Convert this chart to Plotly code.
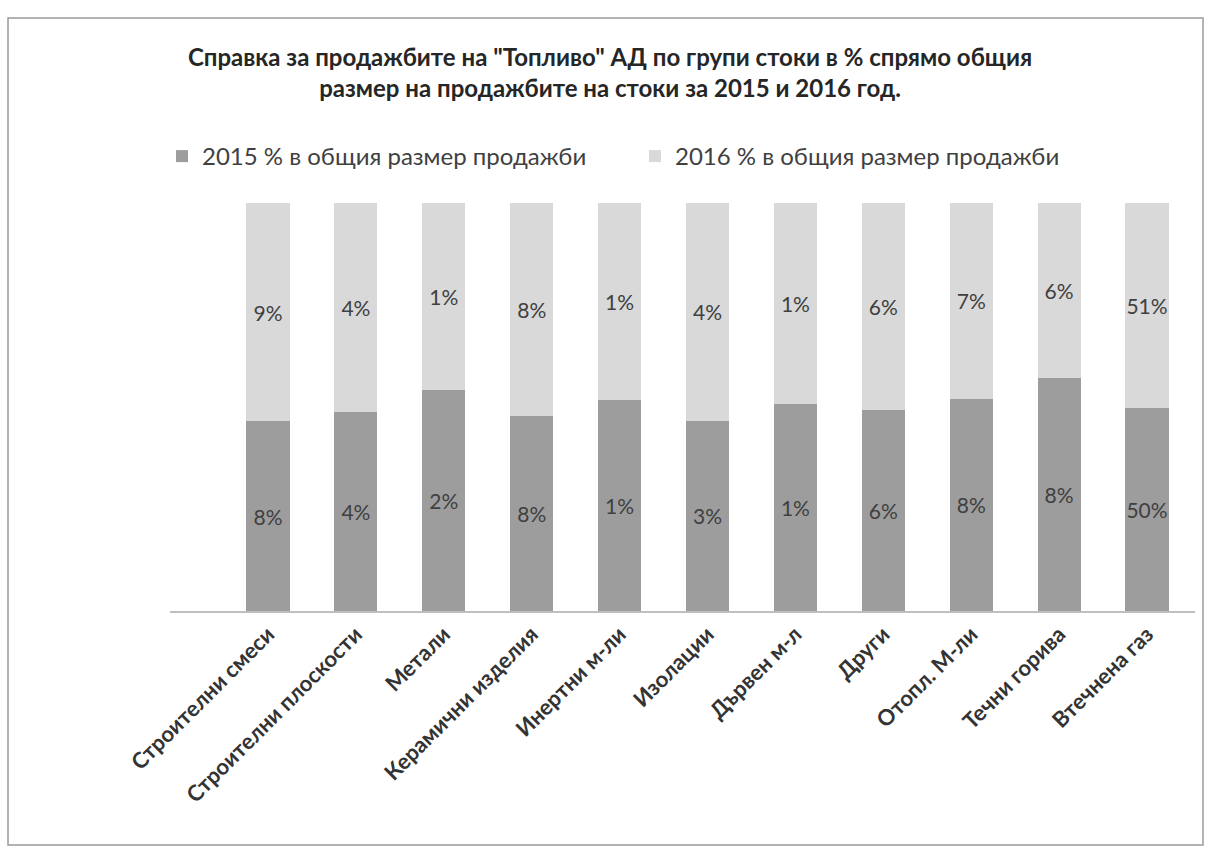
import plotly.graph_objects as go

categories = ["Строителни смеси", "Строителни плоскости", "Метали", "Керамични изделия",
              "Инертни м-ли", "Изолации", "Дървен м-л", "Други", "Отопл. М-ли",
              "Течни горива", "Втечнена газ"]
sales_2015 = [8.0, 4.0, 1.6, 7.7, 1.3, 3.4, 1.2, 6.0, 7.6, 7.6, 50.3]
sales_2016 = [9.2, 4.2, 1.36, 8.4, 1.21, 3.9, 1.16, 6.17, 7.0, 5.73, 50.9]
series_names = ["2015 % в общия размер продажби", "2016 % в общия размер продажби"]

W, H = 1208, 851
L, R, T, B = 170, 1195, 203, 611
FONT = "Lato"

fig = go.Figure()
for vals, name, color in [(sales_2015, series_names[0], "#9d9d9d"),
                          (sales_2016, series_names[1], "#d9d9d9")]:
    fig.add_trace(go.Bar(
        x=categories, y=vals, name=name, customdata=vals,
        marker=dict(color=color, line=dict(width=0)),
        texttemplate="%{customdata:.0f}%", textposition="inside",
        insidetextanchor="middle", textangle=0, constraintext="none",
        textfont=dict(family=FONT, size=21, color="#404040"),
        width=0.49,
    ))

def px_x(p):
    return (p - L) / (R - L)

def px_y(p):
    return (B - p) / (B - T)

fig.add_shape(type="rect", xref="paper", yref="paper",
              x0=px_x(8), x1=px_x(1203), y0=px_y(845), y1=px_y(18),
              line=dict(color="#9a9a9a", width=1.5), layer="below")

fig.update_layout(
    width=W, height=H,
    margin=dict(l=L, r=W - R, t=T, b=H - B),
    barmode="stack", barnorm="percent",
    paper_bgcolor="white", plot_bgcolor="white",
    font=dict(family=FONT, color="#404040"),
    title=dict(
        text="<b>Справка за продажбите на \"Топливо\" АД по групи стоки в % спрямо общия<br>размер на продажбите на стоки за 2015 и 2016 год.</b>",
        x=0.505, xanchor="center", xref="container",
        y=1 - 66 / H, yanchor="top", yref="container",
        font=dict(family=FONT, size=24, color="#262626"),
    ),
    legend=dict(
        orientation="h", xref="container", yref="container", traceorder="normal",
        x=162 / W, xanchor="left", y=1 - 134 / H, yanchor="top",
        font=dict(family=FONT, size=24, color="#404040"),
        entrywidth=428, entrywidthmode="pixels",
        itemclick=False,
    ),
    showlegend=True,
    xaxis=dict(
        range=[-1.115, 10.546], tickangle=-45, showgrid=False,
        showline=True, linecolor="#bfbfbf", linewidth=1.5, ticks="",
        tickfont=dict(family=FONT, size=22, color="#333333", weight="bold"),
    ),
    yaxis=dict(range=[0, 100], visible=False, showgrid=False),
)

fig.write_html("out.html", config={"displayModeBar": False},
               post_script="document.body.style.margin='0';")
